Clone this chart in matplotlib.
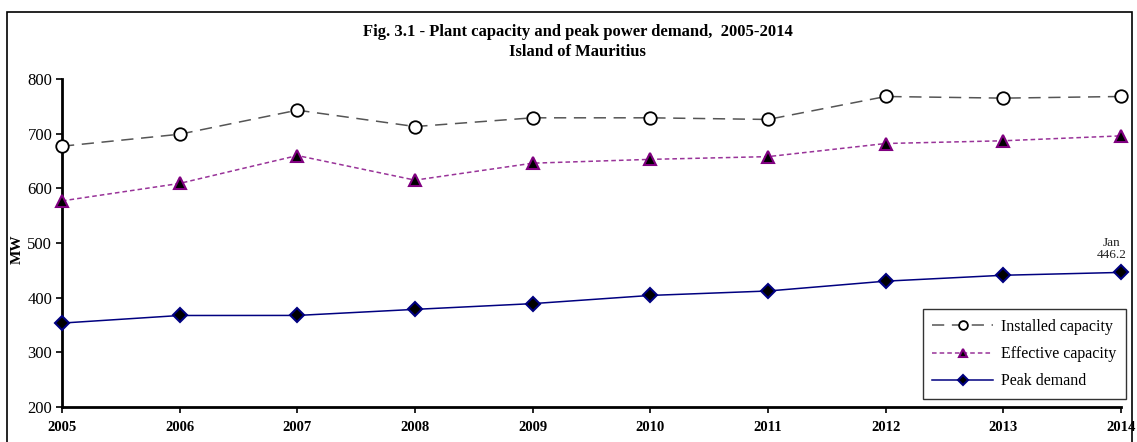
import matplotlib
matplotlib.use("Agg")
import matplotlib.pyplot as plt
from matplotlib.patches import Rectangle

years = [2005, 2006, 2007, 2008, 2009, 2010, 2011, 2012, 2013, 2014]
installed = [677, 699, 743, 713, 729, 729, 726, 768, 765, 768]
effective = [577, 609, 660, 615, 646, 653, 658, 682, 687, 696]
peak = [353.5, 367.4, 367.5, 378.6, 389.1, 404.1, 412.2, 430.2, 441.0, 446.2]
y_ticks = [200, 300, 400, 500, 600, 700, 800]

plt.rcParams['font.family'] = ['Liberation Serif', 'DejaVu Serif']

W, H = 1137, 442
fig = plt.figure(figsize=(W / 100, H / 100), dpi=100)
fig.patches.append(Rectangle((7 / W, -0.05), (1132 - 7) / W, 1.05 - 12 / H,
                             transform=fig.transFigure, fill=False,
                             edgecolor='black', linewidth=1.2))

ax = fig.add_axes([62 / W, 1 - 407 / H, (1121 - 62) / W, (407 - 79) / H])

ax.plot(years, installed, color='#555555', linestyle=(0, (8, 5)), linewidth=1.1,
        marker='o', markersize=9, markerfacecolor='white', markeredgecolor='black',
        markeredgewidth=1.3, label='Installed capacity', clip_on=False, zorder=3)
ax.plot(years, effective, color='#993399', linestyle=(0, (3, 2)), linewidth=1.1,
        marker='^', markersize=8, markerfacecolor='black', markeredgecolor='#800080',
        markeredgewidth=1.5, label='Effective capacity', clip_on=False, zorder=3)
ax.plot(years, peak, color='#000080', linestyle='-', linewidth=1.1,
        marker='D', markersize=7, markerfacecolor='black', markeredgecolor='#000080',
        markeredgewidth=1.5, label='Peak demand', clip_on=False, zorder=3)

ax.annotate('Jan\n446.2', (years[-1], peak[-1]), xytext=(-7, 8), textcoords='offset points',
            ha='center', va='bottom', fontsize=9.5, linespacing=1.05, color='#222222')

ax.set_xlim(2005, 2014)
ax.set_ylim(200, 800)
ax.set_xticks(years)
ax.set_xticklabels([str(y) for y in years], fontweight='bold', fontsize=10.5)
ax.set_yticks(y_ticks)
ax.set_yticklabels([str(v) for v in y_ticks], fontsize=12)
ax.tick_params(axis='both', direction='out', length=4, width=1.2, colors='black')
ax.tick_params(axis='x', pad=6)
ax.tick_params(axis='y', pad=3)
for s in ['top', 'right']:
    ax.spines[s].set_visible(False)
for s in ['left', 'bottom']:
    ax.spines[s].set_linewidth(2)

ax.set_ylabel('MW', fontweight='bold', fontsize=11)
ax.yaxis.set_label_coords(-0.036, 0.48)

fig.text(0.508, 1 - 32 / H, 'Fig. 3.1 - Plant capacity and peak power demand,  2005-2014',
         ha='center', va='center', fontsize=12, fontweight='bold')
fig.text(0.508, 1 - 52 / H, 'Island of Mauritius',
         ha='center', va='center', fontsize=12, fontweight='bold')

leg = ax.legend(loc='lower right', bbox_to_anchor=(1126 / W, 1 - 399 / H),
                bbox_transform=fig.transFigure, fontsize=11.5, frameon=True,
                fancybox=False, edgecolor='black', handlelength=3.8, handletextpad=0.5,
                borderpad=0.6, borderaxespad=0, labelspacing=0.7, markerscale=0.7)
leg.get_frame().set_linewidth(1.0)

fig.savefig('out.png', dpi=100)
